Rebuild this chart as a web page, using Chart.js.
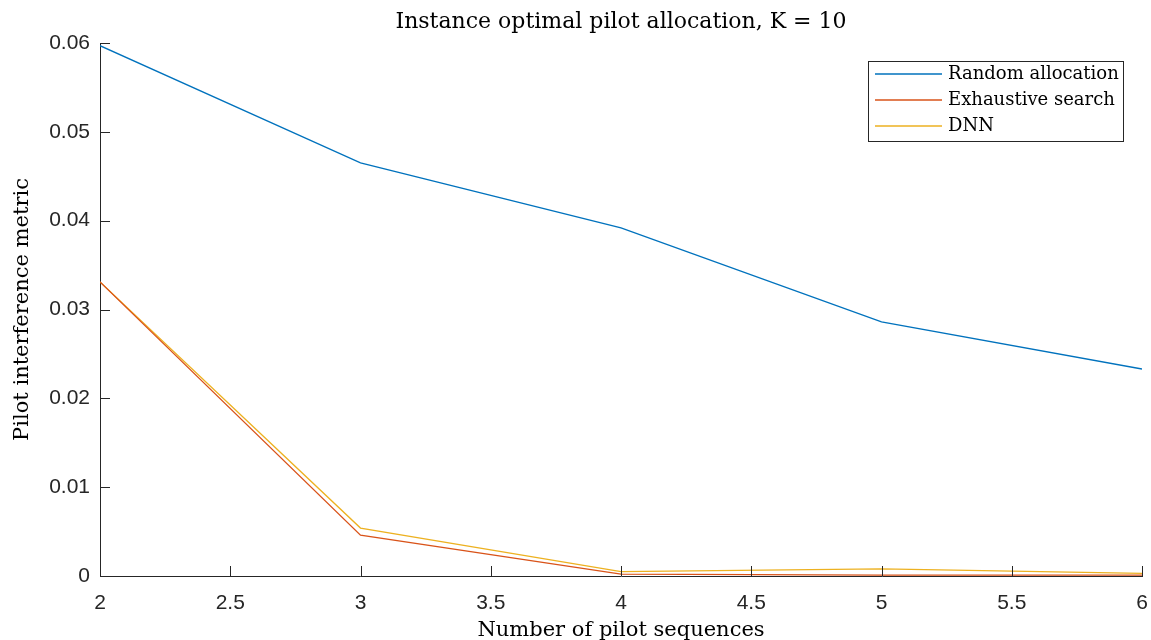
<!DOCTYPE html>
<html>
<head>
<meta charset="utf-8">
<script src="https://cdn.jsdelivr.net/npm/chart.js@4.4.0/dist/chart.umd.min.js"></script>
<style>
  html, body { margin: 0; padding: 0; background: #fff; }
  #wrap { width: 1151px; height: 640px; }
</style>
</head>
<body>
<div id="wrap"><canvas id="myChart"></canvas></div>
<script>
let pilots = [2, 3, 4, 5, 6];
let randomAlloc = [0.0597, 0.0465, 0.0392, 0.0286, 0.0233];
let exhaustive = [0.0331, 0.0046, 0.0002, 0.0001, 0.0001];
let dnn = [0.0331, 0.0054, 0.0005, 0.0008, 0.0003];
let seriesNames = ["Random allocation", "Exhaustive search", "DNN"];
let seriesColors = ["#0072BD", "#D95319", "#EDB120"];

let serif = "'DejaVu Serif', 'Liberation Serif', serif";
let sans = "'Liberation Sans', Arial, sans-serif";
let axisColor = "#262626";

function pts(ys){
    return pilots.map((x, i) => ({x: x, y: ys[i]}));
}

// inward ticks, title and legend box drawn on top of the chart
let extras = {
    id: "extras",
    afterDraw(chart){
        let ctx = chart.ctx, a = chart.chartArea;
        let xs = chart.scales.x, ys = chart.scales.y;
        ctx.save();
        ctx.strokeStyle = axisColor;
        ctx.lineWidth = 1;
        ctx.beginPath();
        xs.ticks.forEach(t => {
            let px = Math.round(xs.getPixelForValue(t.value)) + 0.5;
            ctx.moveTo(px, a.bottom);
            ctx.lineTo(px, a.bottom - 10);
        });
        ys.ticks.forEach(t => {
            let py = Math.round(ys.getPixelForValue(t.value)) + 0.5;
            ctx.moveTo(a.left, py);
            ctx.lineTo(a.left + 10, py);
        });
        ctx.stroke();

        // title
        ctx.fillStyle = "#000";
        ctx.font = "22px " + serif;
        ctx.textAlign = "center";
        ctx.textBaseline = "middle";
        ctx.fillText("Instance optimal pilot allocation, K = 10", (a.left + a.right) / 2, 22);

        // legend
        let lx = 868, ly = 61, lw = 255, lh = 80;
        ctx.fillStyle = "#fff";
        ctx.fillRect(lx, ly, lw, lh);
        ctx.strokeStyle = "#262626";
        ctx.strokeRect(lx + 0.5, ly + 0.5, lw, lh);
        ctx.font = "18px " + serif;
        ctx.textAlign = "left";
        seriesNames.forEach((name, i) => {
            let yy = ly + 13 + i * 26;
            ctx.strokeStyle = seriesColors[i];
            ctx.lineWidth = 1.3;
            ctx.beginPath();
            ctx.moveTo(lx + 7, yy);
            ctx.lineTo(lx + 74, yy);
            ctx.stroke();
            ctx.fillStyle = "#000";
            ctx.fillText(name, lx + 80, yy);
        });
        ctx.restore();
    }
};

new Chart(document.getElementById("myChart"), {
    type: "line",
    data: {
        datasets: [
            {label: seriesNames[0], data: pts(randomAlloc), borderColor: seriesColors[0]},
            {label: seriesNames[1], data: pts(exhaustive), borderColor: seriesColors[1]},
            {label: seriesNames[2], data: pts(dnn), borderColor: seriesColors[2]}
        ]
    },
    options: {
        responsive: true,
        maintainAspectRatio: false,
        animation: false,
        layout: {padding: {top: 43, right: 9, left: 0, bottom: 0}},
        elements: {
            line: {borderWidth: 1.3, tension: 0},
            point: {radius: 0}
        },
        plugins: {
            legend: {display: false},
            title: {display: false},
            tooltip: {enabled: false}
        },
        scales: {
            x: {
                type: "linear",
                min: 2, max: 6,
                afterFit: s => { s.height = 64; s.paddingRight = 0; s.paddingLeft = 0; },
                ticks: {stepSize: 0.5, color: axisColor, font: {family: sans, size: 21}, padding: 15, maxRotation: 0,
                        callback: v => String(v)},
                grid: {drawOnChartArea: false, drawTicks: false},
                border: {color: axisColor, width: 1},
                title: {display: true, text: "Number of pilot sequences", color: "#000",
                        font: {family: serif, size: 21}, padding: {top: 0, bottom: -3}}
            },
            y: {
                min: 0, max: 0.06,
                afterFit: s => { s.width = 100; },
                ticks: {stepSize: 0.01, color: axisColor, font: {family: sans, size: 21}, padding: 10},
                grid: {drawOnChartArea: false, drawTicks: false},
                border: {color: axisColor, width: 1},
                title: {display: true, text: "Pilot interference metric", color: "#000",
                        font: {family: serif, size: 21}, padding: {top: 10, bottom: 0}}
            }
        }
    },
    plugins: [extras]
});
</script>
</body>
</html>
